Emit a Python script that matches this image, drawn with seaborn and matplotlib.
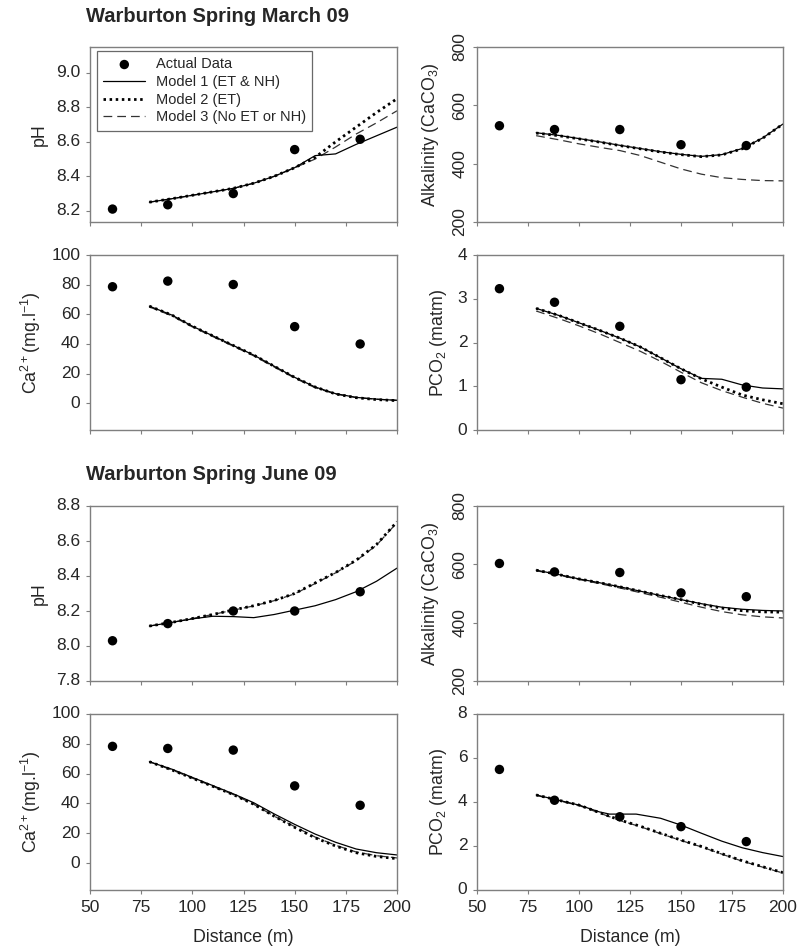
import matplotlib
matplotlib.use("Agg")
import matplotlib.pyplot as plt
import seaborn as sns

sns.set_style("ticks")
plt.rcParams["font.family"] = ["Liberation Sans", "DejaVu Sans"]
plt.rcParams["mathtext.fontset"] = "custom"
plt.rcParams["mathtext.rm"] = "Liberation Sans"
plt.rcParams["mathtext.it"] = "Liberation Sans:italic"

# sampling sites (m) and model output grid
DIST = [61, 88, 120, 150, 182]
MODEL_X = [79, 90, 100, 110, 120, 130, 140, 150, 160, 170, 180, 190, 200]
MODEL_X_KINK = [79, 90, 100, 110, 115, 128, 140, 150, 160, 170, 180, 190, 200]

# March 09
mar_ph_obs = [8.21, 8.235, 8.30, 8.555, 8.615]
mar_ph_m1 = [8.25, 8.27, 8.29, 8.31, 8.33, 8.36, 8.40, 8.45, 8.52, 8.53, 8.585, 8.635, 8.685]
mar_ph_m2 = [8.25, 8.27, 8.29, 8.31, 8.33, 8.36, 8.40, 8.45, 8.51, 8.60, 8.685, 8.77, 8.85]
mar_ph_m3 = [8.25, 8.27, 8.29, 8.31, 8.33, 8.36, 8.40, 8.45, 8.50, 8.57, 8.645, 8.71, 8.78]

mar_alk_obs = [530, 517, 517, 465, 462]
mar_alk_m1 = [506, 497, 486, 475, 463, 452, 441, 432, 425, 431, 452, 488, 536]
mar_alk_m2 = [505, 496, 485, 474, 462, 451, 440, 431, 424, 430, 451, 487, 536]
mar_alk_m3 = [496, 482, 468, 456, 445, 428, 405, 382, 364, 352, 346, 342, 341]

mar_ca_obs = [78.6, 82.4, 80.1, 51.7, 40.0]
mar_ca_m1 = [65.5, 59.5, 52, 45.5, 39, 32.5, 25, 17.5, 11, 6.5, 4, 2.8, 2]
mar_ca_m2 = [65.5, 59.5, 52, 45.5, 39, 32.5, 25, 17.5, 11, 6.3, 3.8, 2.5, 1.8]
mar_ca_m3 = [65, 59, 51.5, 45, 38.5, 32, 24.5, 17, 10.5, 6.2, 3.9, 2.7, 2]

mar_pco2_obs = [3.23, 2.92, 2.37, 1.15, 0.98]
mar_pco2_m1 = [2.78, 2.62, 2.45, 2.28, 2.10, 1.90, 1.65, 1.40, 1.18, 1.16, 1.03, 0.96, 0.94]
mar_pco2_m2 = [2.78, 2.62, 2.45, 2.28, 2.10, 1.90, 1.65, 1.40, 1.17, 0.98, 0.80, 0.69, 0.60]
mar_pco2_m3 = [2.72, 2.55, 2.38, 2.20, 2.00, 1.80, 1.57, 1.32, 1.08, 0.90, 0.75, 0.61, 0.50]

# June 09
jun_ph_obs = [8.03, 8.128, 8.20, 8.20, 8.31]
jun_ph_m1 = [8.114, 8.135, 8.155, 8.17, 8.168, 8.162, 8.18, 8.205, 8.23, 8.265, 8.31, 8.37, 8.445]
jun_ph_m2 = [8.114, 8.135, 8.157, 8.18, 8.206, 8.23, 8.26, 8.30, 8.36, 8.42, 8.49, 8.58, 8.71]
jun_ph_m3 = [8.114, 8.135, 8.157, 8.18, 8.205, 8.229, 8.259, 8.298, 8.357, 8.418, 8.487, 8.576, 8.705]

jun_alk_obs = [603, 574, 572, 502, 489]
jun_alk_m1 = [580, 565, 550, 537, 523, 508, 493, 479, 465, 453, 446, 442, 440]
jun_alk_m2 = [580, 565, 550, 537, 523, 508, 493, 479, 463, 450, 441, 437, 436]
jun_alk_m3 = [578, 563, 548, 534, 519, 503, 487, 470, 453, 438, 427, 420, 416]

jun_ca_obs = [78.3, 76.9, 75.8, 51.8, 38.8]
jun_ca_m1 = [68, 63, 57.5, 52, 46.5, 40.5, 33, 26, 19.5, 14, 9.5, 7, 5.5]
jun_ca_m2 = [68, 62.5, 57, 51.5, 46, 39.5, 31.5, 24, 17, 11.5, 7, 4.5, 3]
jun_ca_m3 = [68, 62.5, 57, 51.5, 46, 39.5, 31.5, 24.5, 17.5, 12, 7.5, 5, 3.5]

jun_pco2_obs = [5.48, 4.08, 3.33, 2.88, 2.20]
jun_pco2_m1 = [4.32, 4.08, 3.86, 3.55, 3.45, 3.45, 3.26, 2.95, 2.58, 2.22, 1.92, 1.70, 1.52]
jun_pco2_m2 = [4.32, 4.08, 3.86, 3.52, 3.18, 2.90, 2.58, 2.27, 1.98, 1.65, 1.33, 1.06, 0.79]
jun_pco2_m3 = [4.30, 4.06, 3.84, 3.50, 3.16, 2.88, 2.56, 2.25, 1.96, 1.63, 1.31, 1.04, 0.77]

LEGEND_LABELS = ["Actual Data", "Model 1 (ET & NH)", "Model 2 (ET)", "Model 3 (No ET or NH)"]

TICK_FS = 12.5
LABEL_FS = 12.8
SPINE_COLOR = "#7f7f7f"


def draw_panel(ax, obs, m1, m2, m3, ylim, yticks, ylabel, m1_x=MODEL_X,
               yfmt="{:g}", rotate=False, xlabels=False):
    sns.lineplot(x=MODEL_X, y=m3, ax=ax, color="#333333", lw=0.9,
                 linestyle=(0, (7, 4)), estimator=None, sort=False, label=LEGEND_LABELS[3])
    sns.lineplot(x=MODEL_X, y=m2, ax=ax, color="black", lw=2.0,
                 linestyle=(0, (0.9, 1.3)), estimator=None, sort=False, label=LEGEND_LABELS[2])
    sns.lineplot(x=m1_x, y=m1, ax=ax, color="black", lw=0.9,
                 estimator=None, sort=False, label=LEGEND_LABELS[1])
    sns.scatterplot(x=DIST, y=obs, ax=ax, color="black", s=46, edgecolor="none",
                    zorder=5, label=LEGEND_LABELS[0])
    ax.get_legend().remove()

    ax.set_xlim(50, 200)
    ax.set_xticks([50, 75, 100, 125, 150, 175, 200])
    ax.set_ylim(*ylim)
    ax.set_yticks(yticks)
    ax.set_yticklabels([yfmt.format(t) for t in yticks],
                       rotation=90 if rotate else 0,
                       va="center")
    ax.set_ylabel(ylabel, fontsize=LABEL_FS, labelpad=8 if rotate else 6)
    if xlabels:
        ax.set_xlabel("Distance (m)", fontsize=LABEL_FS, labelpad=10)
    else:
        ax.set_xlabel("")
        ax.tick_params(axis="x", labelbottom=False)
    ax.tick_params(axis="both", direction="out", length=3, width=0.8,
                   color=SPINE_COLOR, labelsize=TICK_FS, pad=4)
    for sp in ax.spines.values():
        sp.set_visible(True)
        sp.set_color(SPINE_COLOR)
        sp.set_linewidth(1.0)


fig = plt.figure(figsize=(8.09, 9.5), dpi=100)

W, H = 809, 950
col_x = [(90, 307), (477, 306)]
row_y = [(47, 175), (255, 175), (506, 175), (714, 176)]


def make_ax(r, c):
    x0, w = col_x[c]
    y0, h = row_y[r]
    return fig.add_axes([x0 / W, 1 - (y0 + h) / H, w / W, h / H])


ph_lab = "pH"
alk_lab = r"Alkalinity (CaCO$_3$)"
ca_lab = r"Ca$^{2+}$(mg.l$^{-1}$)"
pco2_lab = r"PCO$_2$ (matm)"

ax = make_ax(0, 0)
draw_panel(ax, mar_ph_obs, mar_ph_m1, mar_ph_m2, mar_ph_m3, (8.135, 9.15),
           [8.2, 8.4, 8.6, 8.8, 9.0], ph_lab, yfmt="{:.1f}")
handles, labels = ax.get_legend_handles_labels()
order = [labels.index(l) for l in LEGEND_LABELS]
leg = ax.legend([handles[i] for i in order], [labels[i] for i in order],
                loc="upper left", bbox_to_anchor=(0.012, 0.995), fontsize=10.5,
                frameon=True, fancybox=False, edgecolor="#444444",
                handlelength=2.9, handletextpad=0.7, borderpad=0.45,
                labelspacing=0.25, borderaxespad=0.2)
leg.get_frame().set_linewidth(0.9)

ax = make_ax(0, 1)
draw_panel(ax, mar_alk_obs, mar_alk_m1, mar_alk_m2, mar_alk_m3, (200, 800),
           [200, 400, 600, 800], alk_lab, rotate=True)

ax = make_ax(1, 0)
draw_panel(ax, mar_ca_obs, mar_ca_m1, mar_ca_m2, mar_ca_m3, (-18, 100),
           [0, 20, 40, 60, 80, 100], ca_lab)

ax = make_ax(1, 1)
draw_panel(ax, mar_pco2_obs, mar_pco2_m1, mar_pco2_m2, mar_pco2_m3, (0, 4),
           [0, 1, 2, 3, 4], pco2_lab)

ax = make_ax(2, 0)
draw_panel(ax, jun_ph_obs, jun_ph_m1, jun_ph_m2, jun_ph_m3, (7.8, 8.8),
           [7.8, 8.0, 8.2, 8.4, 8.6, 8.8], ph_lab, yfmt="{:.1f}")

ax = make_ax(2, 1)
draw_panel(ax, jun_alk_obs, jun_alk_m1, jun_alk_m2, jun_alk_m3, (200, 800),
           [200, 400, 600, 800], alk_lab, rotate=True)

ax = make_ax(3, 0)
draw_panel(ax, jun_ca_obs, jun_ca_m1, jun_ca_m2, jun_ca_m3, (-18, 100),
           [0, 20, 40, 60, 80, 100], ca_lab, xlabels=True)

ax = make_ax(3, 1)
draw_panel(ax, jun_pco2_obs, jun_pco2_m1, jun_pco2_m2, jun_pco2_m3, (0, 8),
           [0, 2, 4, 6, 8], pco2_lab, m1_x=MODEL_X_KINK, xlabels=True)

fig.text(86 / W, 1 - 17 / H, "Warburton Spring March 09", fontsize=14.5,
         fontweight="bold", ha="left", va="center")
fig.text(86 / W, 1 - 475 / H, "Warburton Spring June 09", fontsize=14.5,
         fontweight="bold", ha="left", va="center")

fig.savefig("out.png", dpi=100)
